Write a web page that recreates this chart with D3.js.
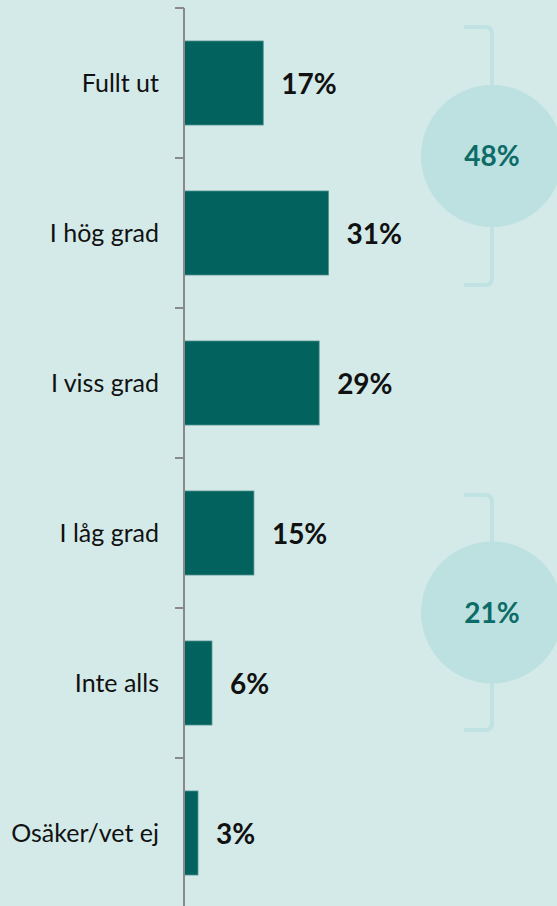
<!DOCTYPE html>
<html>
<head>
<meta charset="utf-8">
<script src="https://cdn.jsdelivr.net/npm/d3@7"></script>
<style>
  html, body { margin: 0; padding: 0; background: #d3eae8; }
  svg { display: block; }
  text { font-family: Lato, "Open Sans", sans-serif; }
</style>
</head>
<body>
<script>
// Answer categories and the share (%) answering each
const categories = ["Fullt ut", "I hög grad", "I viss grad", "I låg grad", "Inte alls", "Osäker/vet ej"];
const shares = [17, 31, 29, 15, 6, 3];
const valueLabels = ["17%", "31%", "29%", "15%", "6%", "3%"];

// Summary groups shown in the circles on the right
const groupFirst = ["Fullt ut", "I låg grad"];
const groupLast = ["I hög grad", "Inte alls"];
const groupTotals = [48, 21];
const groupLabels = ["48%", "21%"];

const W = 557, H = 906;
const colors = {
  bg: "#d3eae8",
  bar: "#01625e",
  barEdge: "#4f8f8c",
  axis: "#8a8a8a",
  circle: "#bde1e1",
  bracket: "#c0e2e2",
  groupText: "#0d6c68",
  text: "#111111"
};

const svg = d3.select("body").append("svg")
  .attr("width", W).attr("height", H);

svg.append("rect").attr("width", W).attr("height", H).attr("fill", colors.bg);

const y = d3.scaleBand()
  .domain(categories)
  .range([8, 908])
  .paddingInner(0.44)
  .paddingOuter(0.22);

const x = d3.scaleLinear().domain([0, 100]).range([184, 650]);

const data = categories.map((c, i) => ({ cat: c, value: shares[i], label: valueLabels[i] }));

// Bars
svg.append("g").selectAll("rect")
  .data(data).join("rect")
  .attr("x", x(0))
  .attr("y", d => y(d.cat))
  .attr("width", d => x(d.value) - x(0))
  .attr("height", y.bandwidth())
  .attr("fill", colors.bar)
  .attr("stroke", colors.barEdge)
  .attr("stroke-width", 0.8);

// Category axis: vertical line with ticks at band boundaries
const half = (y.step() - y.bandwidth()) / 2;
const boundaries = categories.map(c => y(c) - half).concat([y(categories[categories.length - 1]) + y.bandwidth() + half]);
const axisG = svg.append("g");
axisG.append("line")
  .attr("x1", x(0)).attr("x2", x(0))
  .attr("y1", boundaries[0]).attr("y2", H + 5)
  .attr("stroke", colors.axis).attr("stroke-width", 2);
axisG.selectAll("line.tick")
  .data(boundaries).join("line")
  .attr("class", "tick")
  .attr("x1", x(0) - 9).attr("x2", x(0))
  .attr("y1", d => d).attr("y2", d => d)
  .attr("stroke", colors.axis).attr("stroke-width", 2);

// Category labels
svg.append("g").selectAll("text")
  .data(data).join("text")
  .attr("x", 159)
  .attr("y", d => y(d.cat) + y.bandwidth() / 2 + 9)
  .attr("text-anchor", "end")
  .attr("font-size", 25)
  .attr("fill", colors.text)
  .text(d => d.cat);

// Value labels
svg.append("g").selectAll("text")
  .data(data).join("text")
  .attr("x", d => x(d.value) + 18)
  .attr("y", d => y(d.cat) + y.bandwidth() / 2 + 11)
  .attr("font-size", 28)
  .attr("font-weight", 700)
  .attr("fill", colors.text)
  .text(d => d.label);

// Group brackets with circles
const groupInsets = [[-14, 10], [4, 5]];
const cx = 492, r = 71, armX = 464, cornerR = 7;
groupFirst.forEach((first, i) => {
  const top = y(first) + groupInsets[i][0];
  const bottom = y(groupLast[i]) + y.bandwidth() + groupInsets[i][1];
  const cy = (top + bottom) / 2;
  const g = svg.append("g");
  const p = d3.path();
  p.moveTo(armX, top);
  p.lineTo(cx - cornerR, top);
  p.quadraticCurveTo(cx, top, cx, top + cornerR);
  p.lineTo(cx, bottom - cornerR);
  p.quadraticCurveTo(cx, bottom, cx - cornerR, bottom);
  p.lineTo(armX, bottom);
  g.append("path")
    .attr("d", p.toString())
    .attr("fill", "none")
    .attr("stroke", colors.bracket)
    .attr("stroke-width", 4);
  g.append("circle")
    .attr("cx", cx).attr("cy", cy).attr("r", r)
    .attr("fill", colors.circle);
  g.append("text")
    .attr("x", cx).attr("y", cy + 10)
    .attr("text-anchor", "middle")
    .attr("font-size", 28)
    .attr("font-weight", 700)
    .attr("fill", colors.groupText)
    .datum(groupTotals[i])
    .text(groupLabels[i]);
});
</script>
</body>
</html>
